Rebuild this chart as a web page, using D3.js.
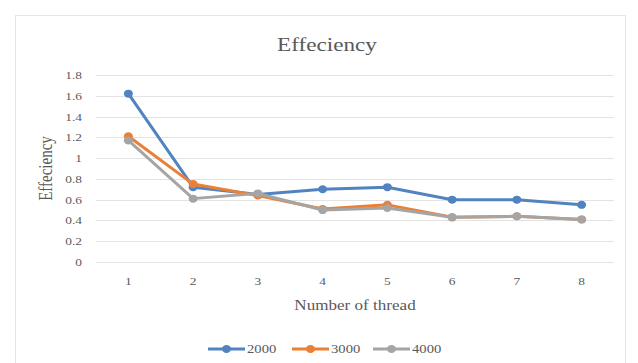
<!DOCTYPE html>
<html>
<head>
<meta charset="utf-8">
<script src="https://cdn.jsdelivr.net/npm/d3@7"></script>
<style>
  html, body { margin: 0; padding: 0; background: #fff; }
  svg { display: block; }
  text { font-family: "Liberation Serif", "Times New Roman", serif; fill: #595959; }
</style>
</head>
<body>
<svg id="chart" width="638" height="363"></svg>
<script>
// Thread counts on the x axis
const threads = ["1", "2", "3", "4", "5", "6", "7", "8"];
// Efficiency per problem size
const eff2000 = [1.62, 0.72, 0.65, 0.70, 0.72, 0.60, 0.60, 0.55];
const eff3000 = [1.21, 0.75, 0.64, 0.51, 0.55, 0.43, 0.44, 0.41];
const eff4000 = [1.17, 0.61, 0.66, 0.50, 0.52, 0.43, 0.44, 0.41];
const seriesNames = ["2000", "3000", "4000"];
const yTicks = [0, 0.2, 0.4, 0.6, 0.8, 1, 1.2, 1.4, 1.6, 1.8];

const series = [
  { name: seriesNames[0], values: eff2000, color: "#5083C0" },
  { name: seriesNames[1], values: eff3000, color: "#EA7F35" },
  { name: seriesNames[2], values: eff4000, color: "#A5A5A5" }
];

const svg = d3.select("#chart");
const plot = { left: 96, right: 614, top: 75, bottom: 262 };
const stretch = 1.22; // text is set slightly wide

// adds a horizontally widened text label anchored at (x, y)
function label(parent, x, y, str, size, anchor) {
  return parent.append("text")
    .attr("transform", `translate(${x},${y}) scale(${stretch},1)`)
    .attr("text-anchor", anchor)
    .attr("font-size", size)
    .text(str);
}

// chart frame
svg.append("rect")
  .attr("x", 15.5).attr("y", 15.5)
  .attr("width", 610).attr("height", 360)
  .attr("fill", "#fff").attr("stroke", "#e6e6e6");

const x = d3.scaleBand().domain(threads).range([plot.left, plot.right]);
const y = d3.scaleLinear().domain([0, 1.8]).range([plot.bottom, plot.top]);
const fmt = d3.format("~g");

// gridlines
svg.append("g").selectAll("line").data(yTicks).join("line")
  .attr("x1", plot.left).attr("x2", plot.right)
  .attr("y1", d => Math.round(y(d)) + 0.5).attr("y2", d => Math.round(y(d)) + 0.5)
  .attr("stroke", "#e3e3e3").attr("stroke-width", 1);

// y axis labels
const yLab = svg.append("g");
yTicks.forEach(t => label(yLab, 82, y(t) + 4, fmt(t), 11, "end"));

// x axis labels
const xLab = svg.append("g");
threads.forEach(t => label(xLab, x(t) + x.bandwidth() / 2, 285, t, 11, "middle"));

// title
label(svg, 327, 51, "Effeciency", 19, "middle");

// axis titles
label(svg, (plot.left + plot.right) / 2, 310, "Number of thread", 14, "middle");

svg.append("text")
  .attr("transform", `translate(52,${(plot.top + plot.bottom) / 2}) rotate(-90) scale(1,${stretch})`)
  .attr("text-anchor", "middle")
  .attr("font-size", 15)
  .text("Effeciency");

const cx = (d, i) => x(threads[i]) + x.bandwidth() / 2;
const line = d3.line().x(cx).y(d => y(d));

// series lines and markers
series.forEach(s => {
  const g = svg.append("g");
  g.append("path")
    .datum(s.values)
    .attr("d", line)
    .attr("fill", "none")
    .attr("stroke", s.color)
    .attr("stroke-width", 3)
    .attr("stroke-linejoin", "round");
  g.selectAll("ellipse").data(s.values).join("ellipse")
    .attr("cx", cx).attr("cy", d => y(d))
    .attr("rx", 4.5).attr("ry", 4)
    .attr("fill", s.color);
});

// legend
const legendX = [208, 292, 373];
const lg = svg.append("g");
series.forEach((s, i) => {
  const lx = legendX[i];
  const ly = 349;
  lg.append("line")
    .attr("x1", lx).attr("x2", lx + 37)
    .attr("y1", ly).attr("y2", ly)
    .attr("stroke", s.color).attr("stroke-width", 3);
  lg.append("ellipse")
    .attr("cx", lx + 18.5).attr("cy", ly).attr("rx", 4.5).attr("ry", 4).attr("fill", s.color);
  label(lg, lx + 39, ly + 4, s.name, 12, "start");
});
</script>
</body>
</html>
